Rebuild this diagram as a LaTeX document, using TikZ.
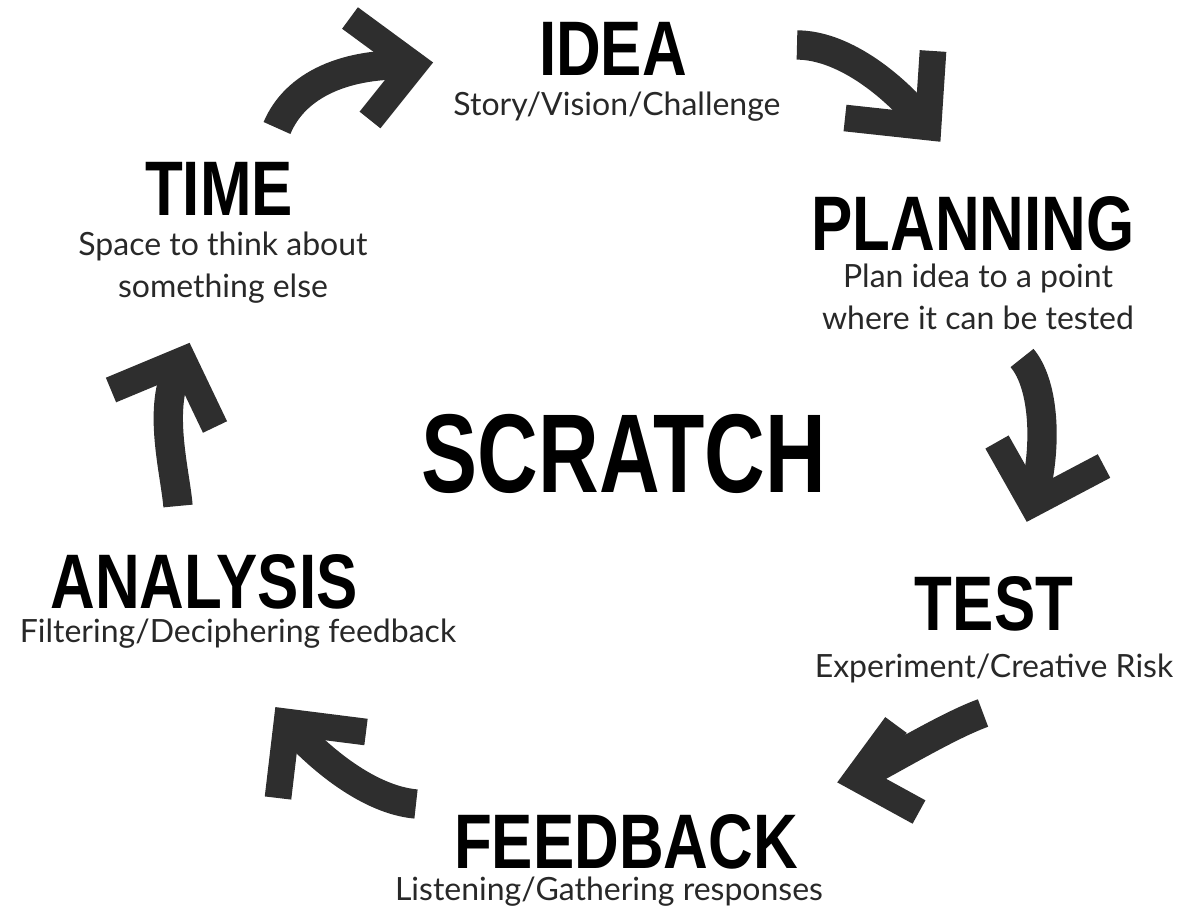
\documentclass[tikz,border=0pt]{standalone}
\usepackage{fontspec}
\setmainfont{Lato}
\newfontfamily\stencil{Liberation Sans}[FakeStretch=0.8]
\newfontfamily\stencilwide{Liberation Sans}[FakeStretch=0.75]
\definecolor{paper}{RGB}{46,46,46}
\definecolor{ink}{RGB}{40,40,40}
\tikzset{
  stage/.style={font=\stencil\bfseries\fontsize{58}{60}\selectfont, anchor=base, inner sep=0pt},
  note/.style={font=\fontsize{24}{31.5}\selectfont, text=ink, anchor=base, align=center, inner sep=0pt},
  shaft/.style={draw=paper, line width=22pt, line cap=butt},
  chevron/.style={draw=paper, line width=20pt, line join=miter, line cap=butt}
}
\begin{document}
\begin{tikzpicture}[x=0.75pt,y=-0.75pt]
\useasboundingbox (0,0) rectangle (1181,914);

% Centre title
\node[font=\stencilwide\bfseries\fontsize{84}{86}\selectfont, anchor=base, inner sep=0pt] (scratch) at (624,492) {SCRATCH};

% Stages round the cycle (two-line notes sit on their last line)
\node[stage] (idea) at (613,75) {IDEA};
\node[note] (ideanote) at (617,115) {Story/Vision/Challenge};

\node[stage] (planning) at (973,250) {PLANNING};
\node[note] (planningnote) at (978,329) {Plan idea to a point\\where it can be tested};

\node[stage] (test) at (994,630) {TEST};
\node[note] (testnote) at (994,677) {Experiment/Creative Risk};

\node[stage] (feedback) at (626,868) {FEEDBACK};
\node[note] (feedbacknote) at (609,900) {Listening/Gathering responses};

\node[stage] (analysis) at (204,608) {ANALYSIS};
\node[note] (analysisnote) at (238,642) {Filtering/Deciphering feedback};

\node[stage] (time) at (219,215) {TIME};
\node[note] (timenote) at (223,297) {Space to think about\\something else};

% Arrows: tail, tip corner, two barb ends
\coordinate (timeout) at (277,128); \coordinate (ideain) at (414,65);
\coordinate (ideab1) at (350,18); \coordinate (ideab2) at (370,120);
\draw[shaft] (timeout) .. controls (295,85) and (345,62) .. (ideain);
\draw[chevron] (ideab1) -- (ideain) -- (ideab2);

\coordinate (ideaout) at (797,45); \coordinate (planin) at (928,127);
\coordinate (planb1) at (933,51); \coordinate (planb2) at (845,118);
\draw[shaft] (ideaout) .. controls (840,45) and (890,80) .. (planin);
\draw[chevron] (planb1) -- (planin) -- (planb2);

\coordinate (planout) at (1022,358); \coordinate (testin) at (1032,504);
\coordinate (testb1) at (997,442); \coordinate (testb2) at (1104,466);
\draw[shaft] (planout) .. controls (1045,385) and (1048,450) .. (testin);
\draw[chevron] (testb1) -- (testin) -- (testb2);

\coordinate (testout) at (983,713); \coordinate (feedin) at (857,778);
\coordinate (feedb1) at (896,725); \coordinate (feedb2) at (919,812);
\draw[shaft] (testout) .. controls (950,725) and (900,755) .. (feedin);
\draw[chevron] (feedb1) -- (feedin) -- (feedb2);

\coordinate (feedout) at (416,804); \coordinate (anain) at (287,722);
\coordinate (anab1) at (366,732); \coordinate (anab2) at (278,798);
\draw[shaft] (feedout) .. controls (370,800) and (320,760) .. (anain);
\draw[chevron] (anab1) -- (anain) -- (anab2);

\coordinate (anaout) at (178,506); \coordinate (timein) at (183,360);
\coordinate (timeb1) at (111,390); \coordinate (timeb2) at (215,427);
\draw[shaft] (anaout) .. controls (175,470) and (155,400) .. (timein);
\draw[chevron] (timeb1) -- (timein) -- (timeb2);
\end{tikzpicture}
\end{document}
